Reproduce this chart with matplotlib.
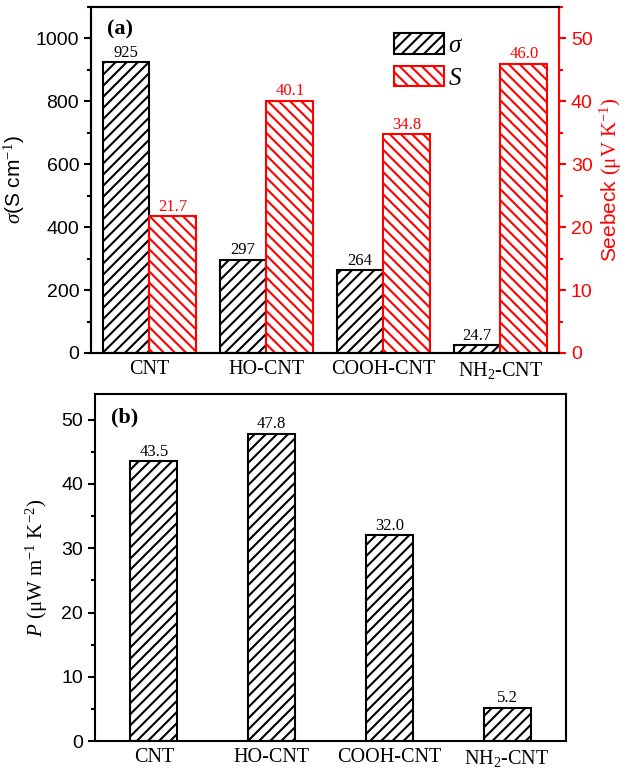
import numpy as np
import matplotlib.pyplot as plt
from matplotlib.ticker import MultipleLocator

plt.rcParams['mathtext.fontset'] = 'custom'
plt.rcParams['mathtext.rm'] = 'Liberation Serif'
plt.rcParams['mathtext.it'] = 'Liberation Serif:italic'
plt.rcParams['hatch.linewidth'] = 1.5

# data
samples = ['CNT', 'HO-CNT', 'COOH-CNT', 'NH$_2$-CNT']
sigma = [925, 297, 264, 24.7]          # S cm^-1
seebeck = [21.7, 40.1, 34.8, 46.0]     # uV K^-1
power = [43.5, 47.8, 32.0, 5.2]        # uW m^-1 K^-2

RED = '#ff0000'
SANS = 'Liberation Sans'
SERIF = 'Liberation Serif'

x = np.arange(len(samples))
w = 0.4

fig = plt.figure(figsize=(6.27, 7.77), dpi=100)
ax1 = fig.add_axes([0.1451, 0.5457, 0.7464, 0.4453])
ax2 = ax1.twinx()
ax3 = fig.add_axes([0.1515, 0.0463, 0.7512, 0.4466])

# ---- (a) conductivity and Seebeck ----
b1 = ax1.bar(x - w / 2, sigma, w, facecolor='white', edgecolor='black',
             hatch='///', linewidth=1.5)
b2 = ax2.bar(x + w / 2, seebeck, w, facecolor='white', edgecolor=RED,
             hatch='\\\\\\', linewidth=1.5)
ax1.bar_label(b1, labels=[f'{v:g}' for v in sigma], padding=1,
              fontsize=12, family=SERIF)
ax2.bar_label(b2, labels=[f'{v:.1f}' for v in seebeck], padding=1,
              fontsize=12, family=SERIF, color=RED)

ax1.set_xlim(-0.5, 3.5)
ax1.set_ylim(0, 1100)
ax2.set_ylim(0, 55)
ax1.yaxis.set_major_locator(MultipleLocator(200))
ax1.yaxis.set_minor_locator(MultipleLocator(100))
ax2.yaxis.set_major_locator(MultipleLocator(10))
ax2.yaxis.set_minor_locator(MultipleLocator(5))
ax1.set_xticks(x)
ax1.set_xticklabels(samples, family=SERIF, fontsize=14.5)
ax1.tick_params(axis='x', length=0, pad=5)
ax1.tick_params(axis='y', which='major', length=5, width=1.5, labelsize=14)
ax1.tick_params(axis='y', which='minor', length=3, width=1.5)
ax2.tick_params(axis='y', which='major', length=5, width=1.5, labelsize=14,
                colors=RED)
ax2.tick_params(axis='y', which='minor', length=3, width=1.5, colors=RED)
for t in ax1.get_yticklabels() + ax2.get_yticklabels():
    t.set_family(SANS)
for s in ax1.spines.values():
    s.set_linewidth(1.5)
for s in ax2.spines.values():
    s.set_linewidth(1.5)
ax2.spines['right'].set_color(RED)

ax1.set_ylabel(r'$\sigma$(S cm$^{-1}$)', family=SANS, fontsize=15, labelpad=6)
ax2.set_ylabel(r'Seebeck $\mathrm{(\mu V\ K^{-1})}$', family=SANS,
               fontsize=15, color=RED, labelpad=4)
ax1.text(0.035, 0.965, '(a)', transform=ax1.transAxes, family=SERIF,
         fontweight='bold', fontsize=16, va='top', ha='left')

ax1.legend([b1, b2], [r'$\sigma$', r'$S$'], loc='upper left',
           bbox_to_anchor=(0.647, 0.925), frameon=False, fontsize=18,
           handlelength=2.0, handleheight=0.9, handletextpad=0.15,
           labelspacing=0.35, borderpad=0, borderaxespad=0)

# ---- (b) power factor ----
b3 = ax3.bar(x, power, w, facecolor='white', edgecolor='black',
             hatch='///', linewidth=1.5)
ax3.bar_label(b3, labels=[f'{v:.1f}' for v in power], padding=1,
              fontsize=12, family=SERIF)
ax3.set_xlim(-0.5, 3.5)
ax3.set_ylim(0, 54)
ax3.yaxis.set_major_locator(MultipleLocator(10))
ax3.yaxis.set_minor_locator(MultipleLocator(5))
ax3.set_xticks(x)
ax3.set_xticklabels(samples, family=SERIF, fontsize=14.5)
ax3.tick_params(axis='x', length=0, pad=5)
ax3.tick_params(axis='y', which='major', length=5, width=1.5, labelsize=14)
ax3.tick_params(axis='y', which='minor', length=3, width=1.5)
for t in ax3.get_yticklabels():
    t.set_family(SANS)
for s in ax3.spines.values():
    s.set_linewidth(1.5)
ax3.set_ylabel(r'$P$ (μW m$^{-1}$ K$^{-2}$)', family=SERIF, fontsize=15,
               labelpad=8)
ax3.text(0.035, 0.96, '(b)', transform=ax3.transAxes, family=SERIF,
         fontweight='bold', fontsize=16, va='top', ha='left')

fig.savefig('out.png', dpi=100)
